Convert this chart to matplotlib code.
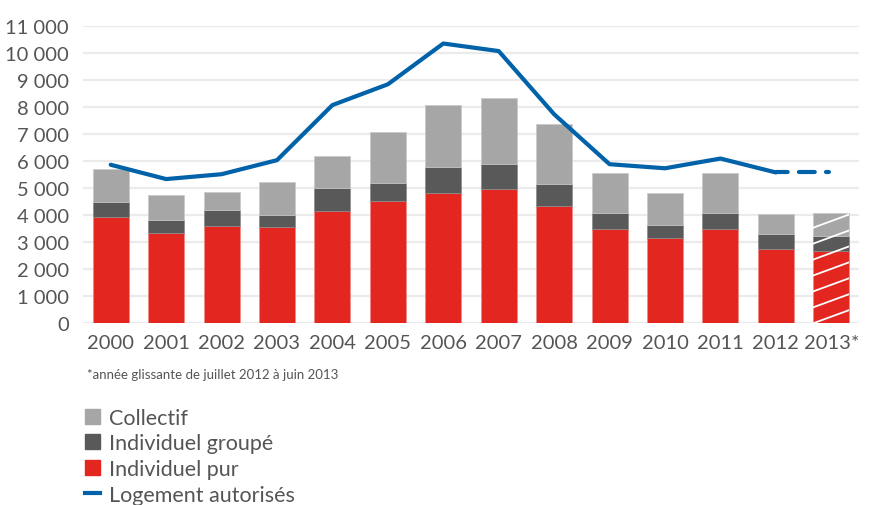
import numpy as np
import matplotlib.pyplot as plt
from matplotlib.lines import Line2D
from matplotlib.patches import Patch

plt.rcParams['font.family'] = ['Lato', 'DejaVu Sans']

years = ['2000', '2001', '2002', '2003', '2004', '2005', '2006',
         '2007', '2008', '2009', '2010', '2011', '2012', '2013*']

# logements commencés par type (cumulés dans les barres)
individuel_pur = [3910, 3320, 3580, 3550, 4140, 4530, 4800,
                  4980, 4330, 3490, 3130, 3470, 2740, 2670]
individuel_groupe = [580, 500, 610, 460, 870, 650, 980,
                     910, 820, 590, 510, 610, 560, 550]
collectif = [1230, 915, 670, 1230, 1190, 1910, 2310,
             2430, 2210, 1480, 1160, 1470, 730, 860]

# logements autorisés
autorises = [5860, 5330, 5510, 6030, 8070, 8840, 10350,
             10070, 7730, 5880, 5730, 6090, 5575, 5575]

red = '#e3261f'
dark = '#595959'
light = '#a6a6a6'
blue = '#0062a8'
text_col = '#555555'

fig = plt.figure(figsize=(8.69, 5.06), dpi=100)
ax = fig.add_axes([0.0955, 0.3597, 0.893, 0.587])

x = np.arange(len(years))
w = 0.65
pur = np.array(individuel_pur)
grp = np.array(individuel_groupe)
col = np.array(collectif)

b1 = ax.bar(x, pur, w, color=red, edgecolor='#f08a85', linewidth=0.5, zorder=2)
b2 = ax.bar(x, grp, w, bottom=pur, color=dark, edgecolor='#8a8a8a', linewidth=0.5, zorder=2)
b3 = ax.bar(x, col, w, bottom=pur + grp, color=light, edgecolor='#c8c8c8', linewidth=0.5, zorder=2)

# white slanted stripes on the last (provisional) year
last = len(years) - 1
for bars in (b1, b2, b3):
    patch = bars[last]
    x0 = patch.get_x()
    for y0 in np.arange(-600, 4800, 590):
        ln, = ax.plot([x0, x0 + w], [y0, y0 + 490], color='white', lw=1.3, zorder=3)
        ln.set_clip_path(patch)

ax.plot(x[:-1], autorises[:-1], color=blue, lw=3, zorder=4, solid_capstyle='round')
ax.plot(x[-2:], autorises[-2:], color=blue, lw=3, zorder=4,
        linestyle=(0, (2.8, 2.7, 3.8, 2.7, 0.7, 6)), dash_capstyle='round')

ax.set_xlim(-0.5, len(years) - 0.5)
ax.set_ylim(0, 11000)
ax.set_yticks(np.arange(0, 11001, 1000))
ax.set_yticklabels(['0'] + ['{:,}'.format(v).replace(',', ' ') for v in range(1000, 11001, 1000)])
ax.set_xticks(x)
ax.set_xticklabels(years)
ax.tick_params(length=0, labelsize=14.5, colors=text_col)
ax.tick_params(axis='y', pad=10)
ax.tick_params(axis='x', pad=8)
ax.grid(axis='y', color='#ebebeb', lw=1.6, zorder=0)
ax.set_axisbelow(True)
for s in ax.spines.values():
    s.set_visible(False)

fig.text(0.1, 0.259, '*année glissante de juillet 2012 à juin 2013',
         fontsize=9.5, color=text_col, va='center')

handles = [Patch(color=light), Patch(color=dark), Patch(color=red),
           Line2D([], [], color=blue, lw=3)]
labels = ['Collectif', 'Individuel groupé', 'Individuel pur', 'Logement autorisés']
fig.legend(handles, labels, loc='upper left', bbox_to_anchor=(0.098, 0.192),
           frameon=False, fontsize=15.5, labelcolor=text_col,
           handlelength=0.7, handleheight=0.7, handletextpad=0.42,
           labelspacing=0.26, borderpad=0, borderaxespad=0)

fig.savefig('out.png', dpi=100)
